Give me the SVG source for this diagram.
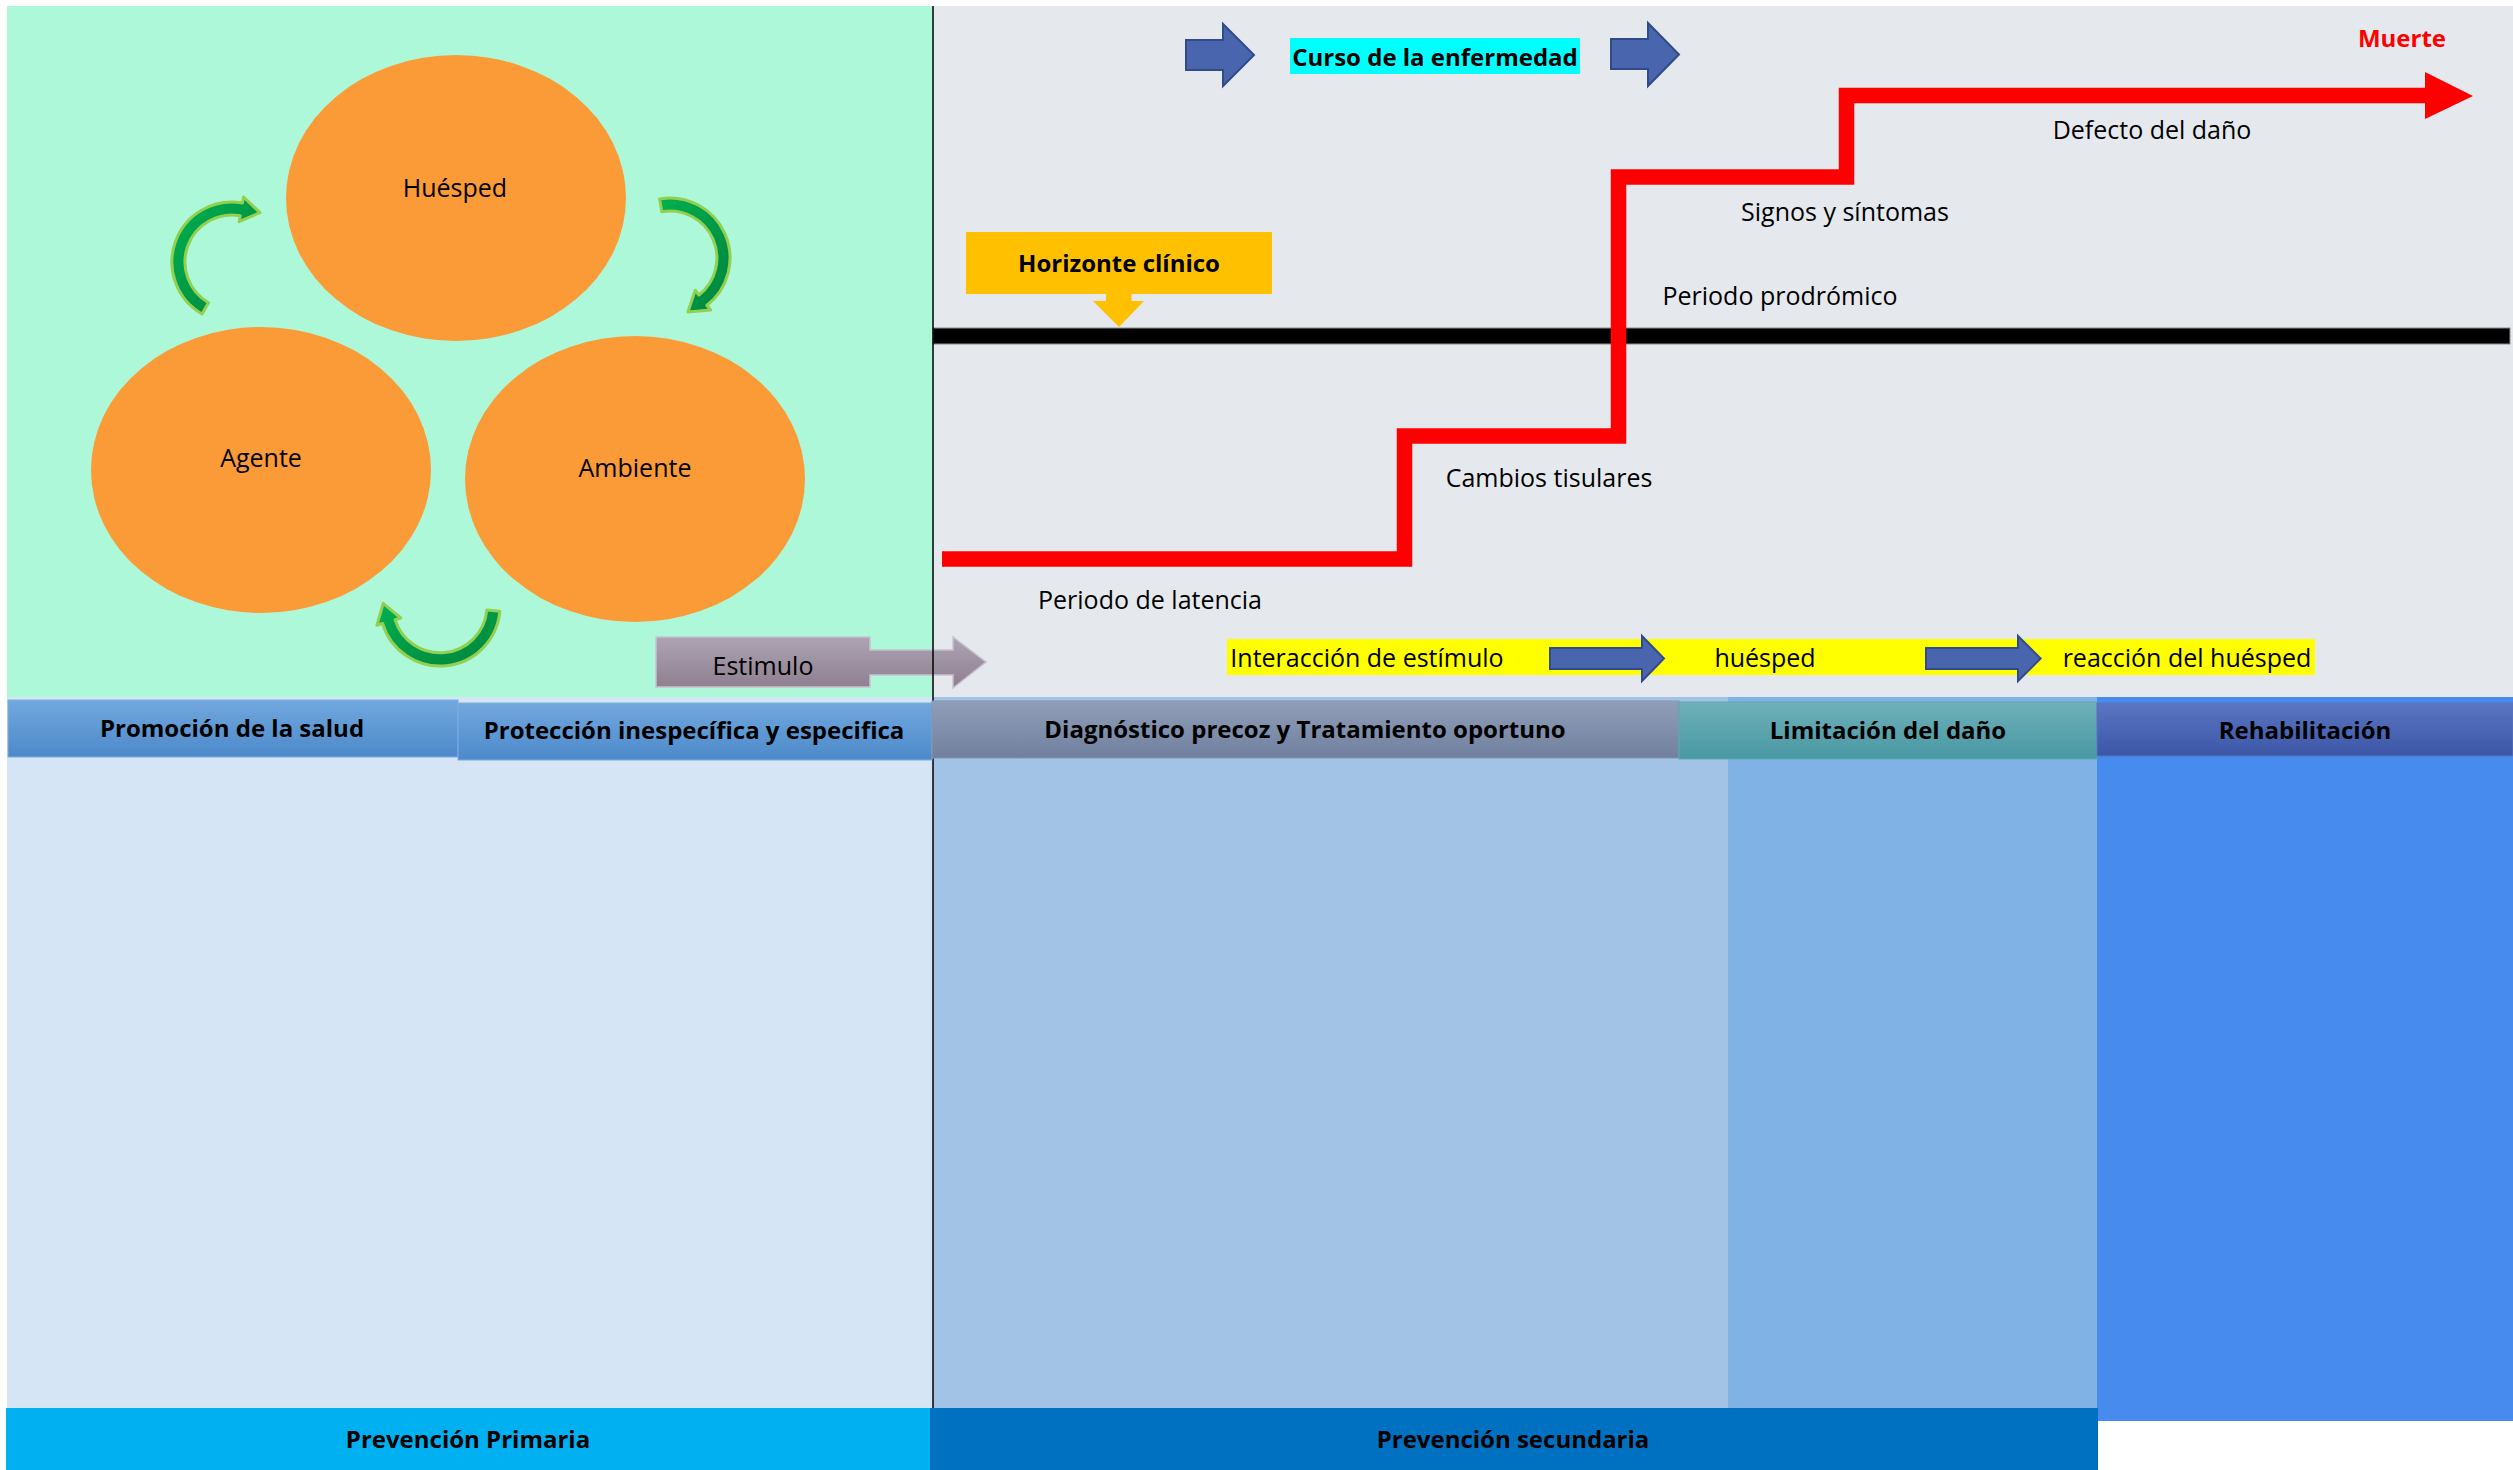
<svg xmlns="http://www.w3.org/2000/svg" width="2513" height="1470" viewBox="0 0 2513 1470">
  <defs>
    <linearGradient id="gBlueHdr" x1="0" y1="0" x2="0" y2="1">
      <stop offset="0" stop-color="#71A8DD"/>
      <stop offset="1" stop-color="#4D89CB"/>
    </linearGradient>
    <linearGradient id="gGrayHdr" x1="0" y1="0" x2="0" y2="1">
      <stop offset="0" stop-color="#909EB8"/>
      <stop offset="1" stop-color="#70809E"/>
    </linearGradient>
    <linearGradient id="gTealHdr" x1="0" y1="0" x2="0" y2="1">
      <stop offset="0" stop-color="#6FB0B9"/>
      <stop offset="1" stop-color="#4898A3"/>
    </linearGradient>
    <linearGradient id="gNavyHdr" x1="0" y1="0" x2="0" y2="1">
      <stop offset="0" stop-color="#5B76C2"/>
      <stop offset="1" stop-color="#3A56A6"/>
    </linearGradient>
    <linearGradient id="gStim" x1="0" y1="0" x2="0" y2="1">
      <stop offset="0" stop-color="#ACA4B4"/>
      <stop offset="1" stop-color="#8E7F8F"/>
    </linearGradient>
    <linearGradient id="gCurve" x1="0" y1="0" x2="1" y2="1">
      <stop offset="0" stop-color="#00B050"/>
      <stop offset="1" stop-color="#00843D"/>
    </linearGradient>
  </defs>
  <style>
    .t { font-family: "Open Sans", "Noto Sans", "Liberation Sans", sans-serif; font-size: 25px; fill: #000; text-anchor: middle; }
    .b { font-family: "Open Sans", "Noto Sans", "Liberation Sans", sans-serif; font-size: 24px; font-weight: bold; fill: #000; text-anchor: middle; }
    .orb { fill: #FB9B37; }
    .curve { fill: url(#gCurve); stroke: #92D050; stroke-width: 3; stroke-linejoin: round; }
    .blue { fill: #4865AE; stroke: #2F4B8A; stroke-width: 2; }
  </style>

  <!-- background panels -->
  <rect x="0" y="0" width="2513" height="1470" fill="#FFFFFF"/>
  <rect x="7" y="6" width="926" height="692" fill="#AEF8DA"/>
  <rect x="933" y="6" width="1580" height="692" fill="#E5E9EE"/>

  <!-- prevention columns -->
  <g id="columns">
    <rect x="7" y="697" width="926" height="711" fill="#D5E5F6"/>
    <rect x="933" y="697" width="795" height="711" fill="#A2C3E5"/>
    <rect x="1728" y="697" width="369" height="711" fill="#80B2E6"/>
    <rect x="2097" y="697" width="416" height="724" fill="#478BEF"/>
  </g>

  <!-- epidemiological triad -->
  <g id="huesped">
    <ellipse class="orb" cx="456" cy="198" rx="170" ry="143"/>
    <text class="t" x="455" y="197">Huésped</text>
  </g>
  <g id="agente">
    <ellipse class="orb" cx="261" cy="470" rx="170" ry="143"/>
    <text class="t" x="261" y="467">Agente</text>
  </g>
  <g id="ambiente">
    <ellipse class="orb" cx="635" cy="479" rx="170" ry="143"/>
    <text class="t" x="635" y="477">Ambiente</text>
  </g>

  <g id="estimulo">
    <path d="M656,637 H870 V650 H953 V637 L986,662 L953,688 V675 H870 V687 H656 Z" fill="url(#gStim)" stroke="#C9C1CC" stroke-width="1.5"/>
    <text class="t" x="763" y="675">Estimulo</text>
  </g>

  <!-- horizon line -->
  <g id="horizonte-linea">
    <rect x="933" y="328" width="1577" height="16" fill="#000000" stroke="#8A8A8A" stroke-width="1"/>
  </g>

  <g id="horizonte-clinico">
    <rect x="966" y="232" width="306" height="62" fill="#FFC000"/>
    <polygon points="1106,293 1131.5,293 1131.5,301 1144,301 1119,327 1093,301 1106,301" fill="#FFC000"/>
    <text class="b" x="1119" y="272">Horizonte clínico</text>
  </g>

  <g id="curso">
    <rect x="1290" y="38" width="290" height="36" fill="#00FFFF"/>
    <text class="b" x="1435" y="66">Curso de la enfermedad</text>
  </g>

  <g id="muerte">
    <text class="b" x="2402" y="47" style="fill:#FF0000">Muerte</text>
  </g>

  <!-- stage labels -->
  <g id="etapas">
    <text class="t" x="1150" y="609">Periodo de latencia</text>
    <text class="t" x="1549" y="487">Cambios tisulares</text>
    <text class="t" x="1780" y="305">Periodo prodrómico</text>
    <text class="t" x="1845" y="221">Signos y síntomas</text>
    <text class="t" x="2152" y="139">Defecto del daño</text>
  </g>

  <!-- interaction strip -->
  <g id="interaccion">
    <rect x="1227" y="639" width="1088" height="36" fill="#FFFF00"/>
    <text class="t" x="1367" y="667">Interacción de estímulo</text>
    <text class="t" x="1765" y="667">huésped</text>
    <text class="t" x="2187" y="667">reacción del huésped</text>
  </g>

  <!-- connectors -->
  <g id="connectors">
    <!-- triad cycle arrows -->
    <path class="curve" d="M202,314 A60,60 0 0 1 242.4,202.9 L243.5,197 L260,212.6 L239.1,221.6 L240.2,215.7 A47,47 0 0 0 208.5,302.7 Z"/>
    <path class="curve" d="M659.6,198.9 A60,60 0 0 1 706.9,305.3 L710.6,310 L687.9,311.9 L695.2,290.3 L698.9,295 A47,47 0 0 0 661.8,211.7 Z"/>
    <path class="curve" d="M499.8,611.2 A60,60 0 0 1 382.6,623.5 L376.9,625.3 L383.2,603.4 L400.8,618 L395.1,619.7 A47,47 0 0 0 486.8,610.1 Z"/>

    <!-- course of disease arrows -->
    <polygon class="blue" points="1186,40 1223,40 1223,24 1254,55 1223,86 1223,70 1186,70"/>
    <polygon class="blue" points="1611,39 1648,39 1648,23 1679,54.5 1648,86 1648,69 1611,69"/>

    <!-- interaction arrows -->
    <polygon class="blue" points="1550,648 1642,648 1642,636 1664,658.5 1642,681 1642,669 1550,669"/>
    <polygon class="blue" points="1926,648 2018,648 2018,636 2040.6,658.5 2018,681 2018,669 1926,669"/>

    <!-- disease progression staircase -->
    <polyline points="942,559 1404.5,559 1404.5,436 1618.5,436 1618.5,177 1846.5,177 1846.5,95.5 2426,95.5" fill="none" stroke="#FF0000" stroke-width="15.5" stroke-linejoin="miter"/>
    <polygon points="2425,72 2473,96 2425,119" fill="#FF0000"/>
  </g>

  <!-- divider between prepathogenic and pathogenic periods -->
  <line x1="933" y1="6" x2="933" y2="1408" stroke="#000000" stroke-width="1.5"/>

  <!-- level headers -->
  <g id="promocion">
    <rect x="8" y="700" width="450" height="57" fill="url(#gBlueHdr)" stroke="#7AADE0" stroke-width="1"/>
    <text class="b" x="232" y="737">Promoción de la salud</text>
  </g>
  <g id="proteccion">
    <rect x="458" y="703" width="474" height="57" fill="url(#gBlueHdr)" stroke="#7AADE0" stroke-width="1"/>
    <text class="b" x="694" y="739">Protección inespecífica y especifica</text>
  </g>
  <g id="diagnostico">
    <rect x="932" y="701" width="747" height="57" fill="url(#gGrayHdr)" stroke="#8594AE" stroke-width="1"/>
    <text class="b" x="1305" y="738">Diagnóstico precoz y Tratamiento oportuno</text>
  </g>
  <g id="limitacion">
    <rect x="1679" y="702" width="418" height="57" fill="url(#gTealHdr)" stroke="#5EA7B0" stroke-width="1"/>
    <text class="b" x="1888" y="739">Limitación del daño</text>
  </g>
  <g id="rehabilitacion">
    <rect x="2097" y="703" width="416" height="53" fill="url(#gNavyHdr)" stroke="#5A74BE" stroke-width="1"/>
    <text class="b" x="2305" y="739">Rehabilitación</text>
  </g>

  <!-- prevention levels -->
  <g id="prevencion-primaria">
    <rect x="6" y="1408" width="924" height="62" fill="#00B0F0"/>
    <text class="b" x="468" y="1448">Prevención Primaria</text>
  </g>
  <g id="prevencion-secundaria">
    <rect x="930" y="1408" width="1168" height="62" fill="#0070C0"/>
    <text class="b" x="1513" y="1448">Prevención secundaria</text>
  </g>
</svg>
